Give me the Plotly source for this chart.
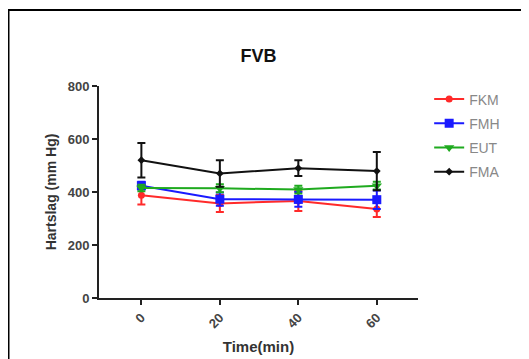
import plotly.graph_objects as go

time_min = [0, 20, 40, 60]
tick_labels = ["0", "20", "40", "60"]

fkm = [388, 357, 366, 336]
fkm_err = [35, 32, 38, 30]
fmh = [424, 373, 372, 371]
fmh_err = [15, 25, 28, 35]
eut = [415, 414, 409, 424]
eut_err = [12, 15, 15, 15]
fma = [520, 470, 490, 479]
fma_err = [65, 50, 30, 72]

series = [
    ("FKM", fkm, fkm_err, "#ff2a2a", "circle", 7),
    ("FMH", fmh, fmh_err, "#1a1aff", "square", 9),
    ("EUT", eut, eut_err, "#1faa1f", "triangle-down", 9),
    ("FMA", fma, fma_err, "#111111", "diamond", 6),
]

fig = go.Figure()
for name, vals, err, col, sym, sz in series:
    fig.add_trace(go.Scatter(
        x=time_min, y=vals, name=name, mode="lines+markers", legendgroup=name,
        line=dict(color=col, width=2),
        marker=dict(color=col, symbol=sym, size=sz),
        error_y=dict(type="data", array=err, visible=True, color=col,
                     thickness=2, width=4),
    ))

fig.update_layout(
    width=521, height=351,
    margin=dict(l=91, r=111, t=78, b=61),
    paper_bgcolor="white", plot_bgcolor="white",
    font=dict(family="Liberation Sans, Arial, sans-serif", color="#333"),
    title=dict(text="<b>FVB</b>", x=0.5, xref="paper", y=1.0, yref="container",
               yanchor="top", pad=dict(t=41),
               font=dict(size=18, color="#111")),
    showlegend=True,
    legend=dict(x=1.035, y=1.012, xanchor="left", yanchor="top",
                font=dict(size=14, color="#888"), bgcolor="rgba(0,0,0,0)",
                itemwidth=30, tracegroupgap=3),
    xaxis=dict(range=[-10.8, 70.5], tickvals=time_min, ticktext=tick_labels,
               tickangle=-45, showgrid=False, zeroline=False, automargin=False,
               showline=True, linecolor="#222", linewidth=2,
               ticks="outside", ticklen=5, tickwidth=2, tickcolor="#222",
               tickfont=dict(size=13, color="#444", weight="bold"),
               title=dict(text="<b>Time(min)</b>", font=dict(size=15, color="#333"), standoff=11)),
    yaxis=dict(range=[0, 800], tickvals=[0, 200, 400, 600, 800],
               showgrid=False, zeroline=False, automargin=False,
               showline=True, linecolor="#222", linewidth=2,
               ticks="outside", ticklen=5, tickwidth=2, tickcolor="#222",
               tickfont=dict(size=13, color="#444", weight="bold"),
               title=dict(text="<b>Hartslag (mm Hg)</b>", font=dict(size=14, color="#333"), standoff=8)),
    shapes=[dict(type="rect", xref="paper", yref="paper",
                 x0=-0.2837, x1=1.329, y0=-0.35, y1=1.359,
                 line=dict(color="black", width=2), fillcolor="rgba(0,0,0,0)")],
)

fig.write_html("out.html")
